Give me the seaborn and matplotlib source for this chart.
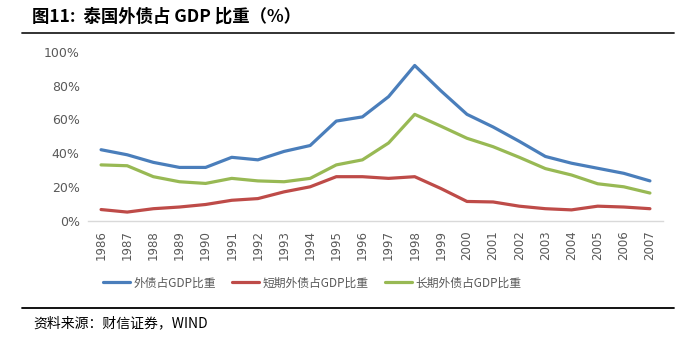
import matplotlib
matplotlib.use("Agg")
import matplotlib.pyplot as plt
import seaborn as sns
import pandas as pd
from matplotlib.lines import Line2D

years = [str(y) for y in range(1986, 2008)]
total = [42, 39, 34.5, 31.5, 31.5, 37.5, 36, 41, 44.5, 59, 61.5, 73.5, 92, 77, 63, 55.5, 47, 38, 34, 31, 28, 23.5]
short = [6.5, 5, 7, 8, 9.5, 12, 13, 17, 20, 26, 26, 25, 26, 19, 11.3, 11, 8.5, 7, 6.3, 8.5, 8, 7]
long_ = [33, 32.5, 26, 23, 22, 25, 23.5, 23, 25, 33, 36, 46, 63, 56, 48.8, 43.8, 37.5, 30.8, 27, 21.8, 20, 16.3]
names = ["外债占GDP比重", "短期外债占GDP比重", "长期外债占GDP比重"]
colors = ["#4A7EBB", "#BE4B48", "#98B954"]
yticks = [0, 20, 40, 60, 80, 100]

sns.set_theme(style="white")
plt.rcParams['font.family'] = ['Noto Sans CJK SC', 'DejaVu Sans']

df = pd.DataFrame({"year": years * 3,
                   "value": total + short + long_,
                   "series": [names[0]] * 22 + [names[1]] * 22 + [names[2]] * 22})

fig = plt.figure(figsize=(6.93, 3.46), dpi=100)
ax = fig.add_axes([88 / 693, 1 - 220.5 / 346, 575 / 693, 168.5 / 346])
sns.lineplot(data=df, x="year", y="value", hue="series", palette=colors,
             linewidth=2.3, ax=ax, legend=False, sort=False)
ax.set_xlim(-0.5, 21.5)
ax.set_ylim(0, 100)
ax.set_yticks(yticks)
ax.set_yticklabels([f"{v}%" for v in yticks])
ax.set_xlabel("")
ax.set_ylabel("")
for s in ["top", "right", "left"]:
    ax.spines[s].set_visible(False)
ax.spines["bottom"].set_color("#D9D9D9")
ax.spines["bottom"].set_linewidth(1.0)
ax.tick_params(axis="x", labelrotation=90, labelsize=8.5, colors="#595959", length=0, pad=7)
ax.tick_params(axis="y", labelsize=9, colors="#595959", length=0, pad=6)
for lab in ax.get_xticklabels() + ax.get_yticklabels():
    lab.set_fontfamily(['DejaVu Sans'])
    lab.set_color("#595959")

handles = [Line2D([0], [0], color=c, lw=2.3) for c in colors]
fig.legend(handles, names, loc="center", bbox_to_anchor=(312 / 693, 1 - 283 / 346),
           ncol=3, frameon=False, fontsize=8.5, handlelength=2.3, columnspacing=1.4,
           handletextpad=0.25, labelcolor="#595959")

fig.text(32 / 693, 1 - 17 / 346, "图11:  泰国外债占 GDP 比重（%）", fontsize=12.5,
         fontweight="bold", va="center", ha="left", color="black")
fig.add_artist(Line2D([22 / 693, 674 / 693], [1 - 32.5 / 346] * 2, color="#222222", lw=1.3))
fig.add_artist(Line2D([22 / 693, 674 / 693], [1 - 308 / 346] * 2, color="black", lw=1.3))
fig.text(33 / 693, 1 - 323 / 346, "资料来源：财信证券，WIND", fontsize=10,
         style="italic", va="center", ha="left", color="black")

fig.savefig("out.png", dpi=100)
